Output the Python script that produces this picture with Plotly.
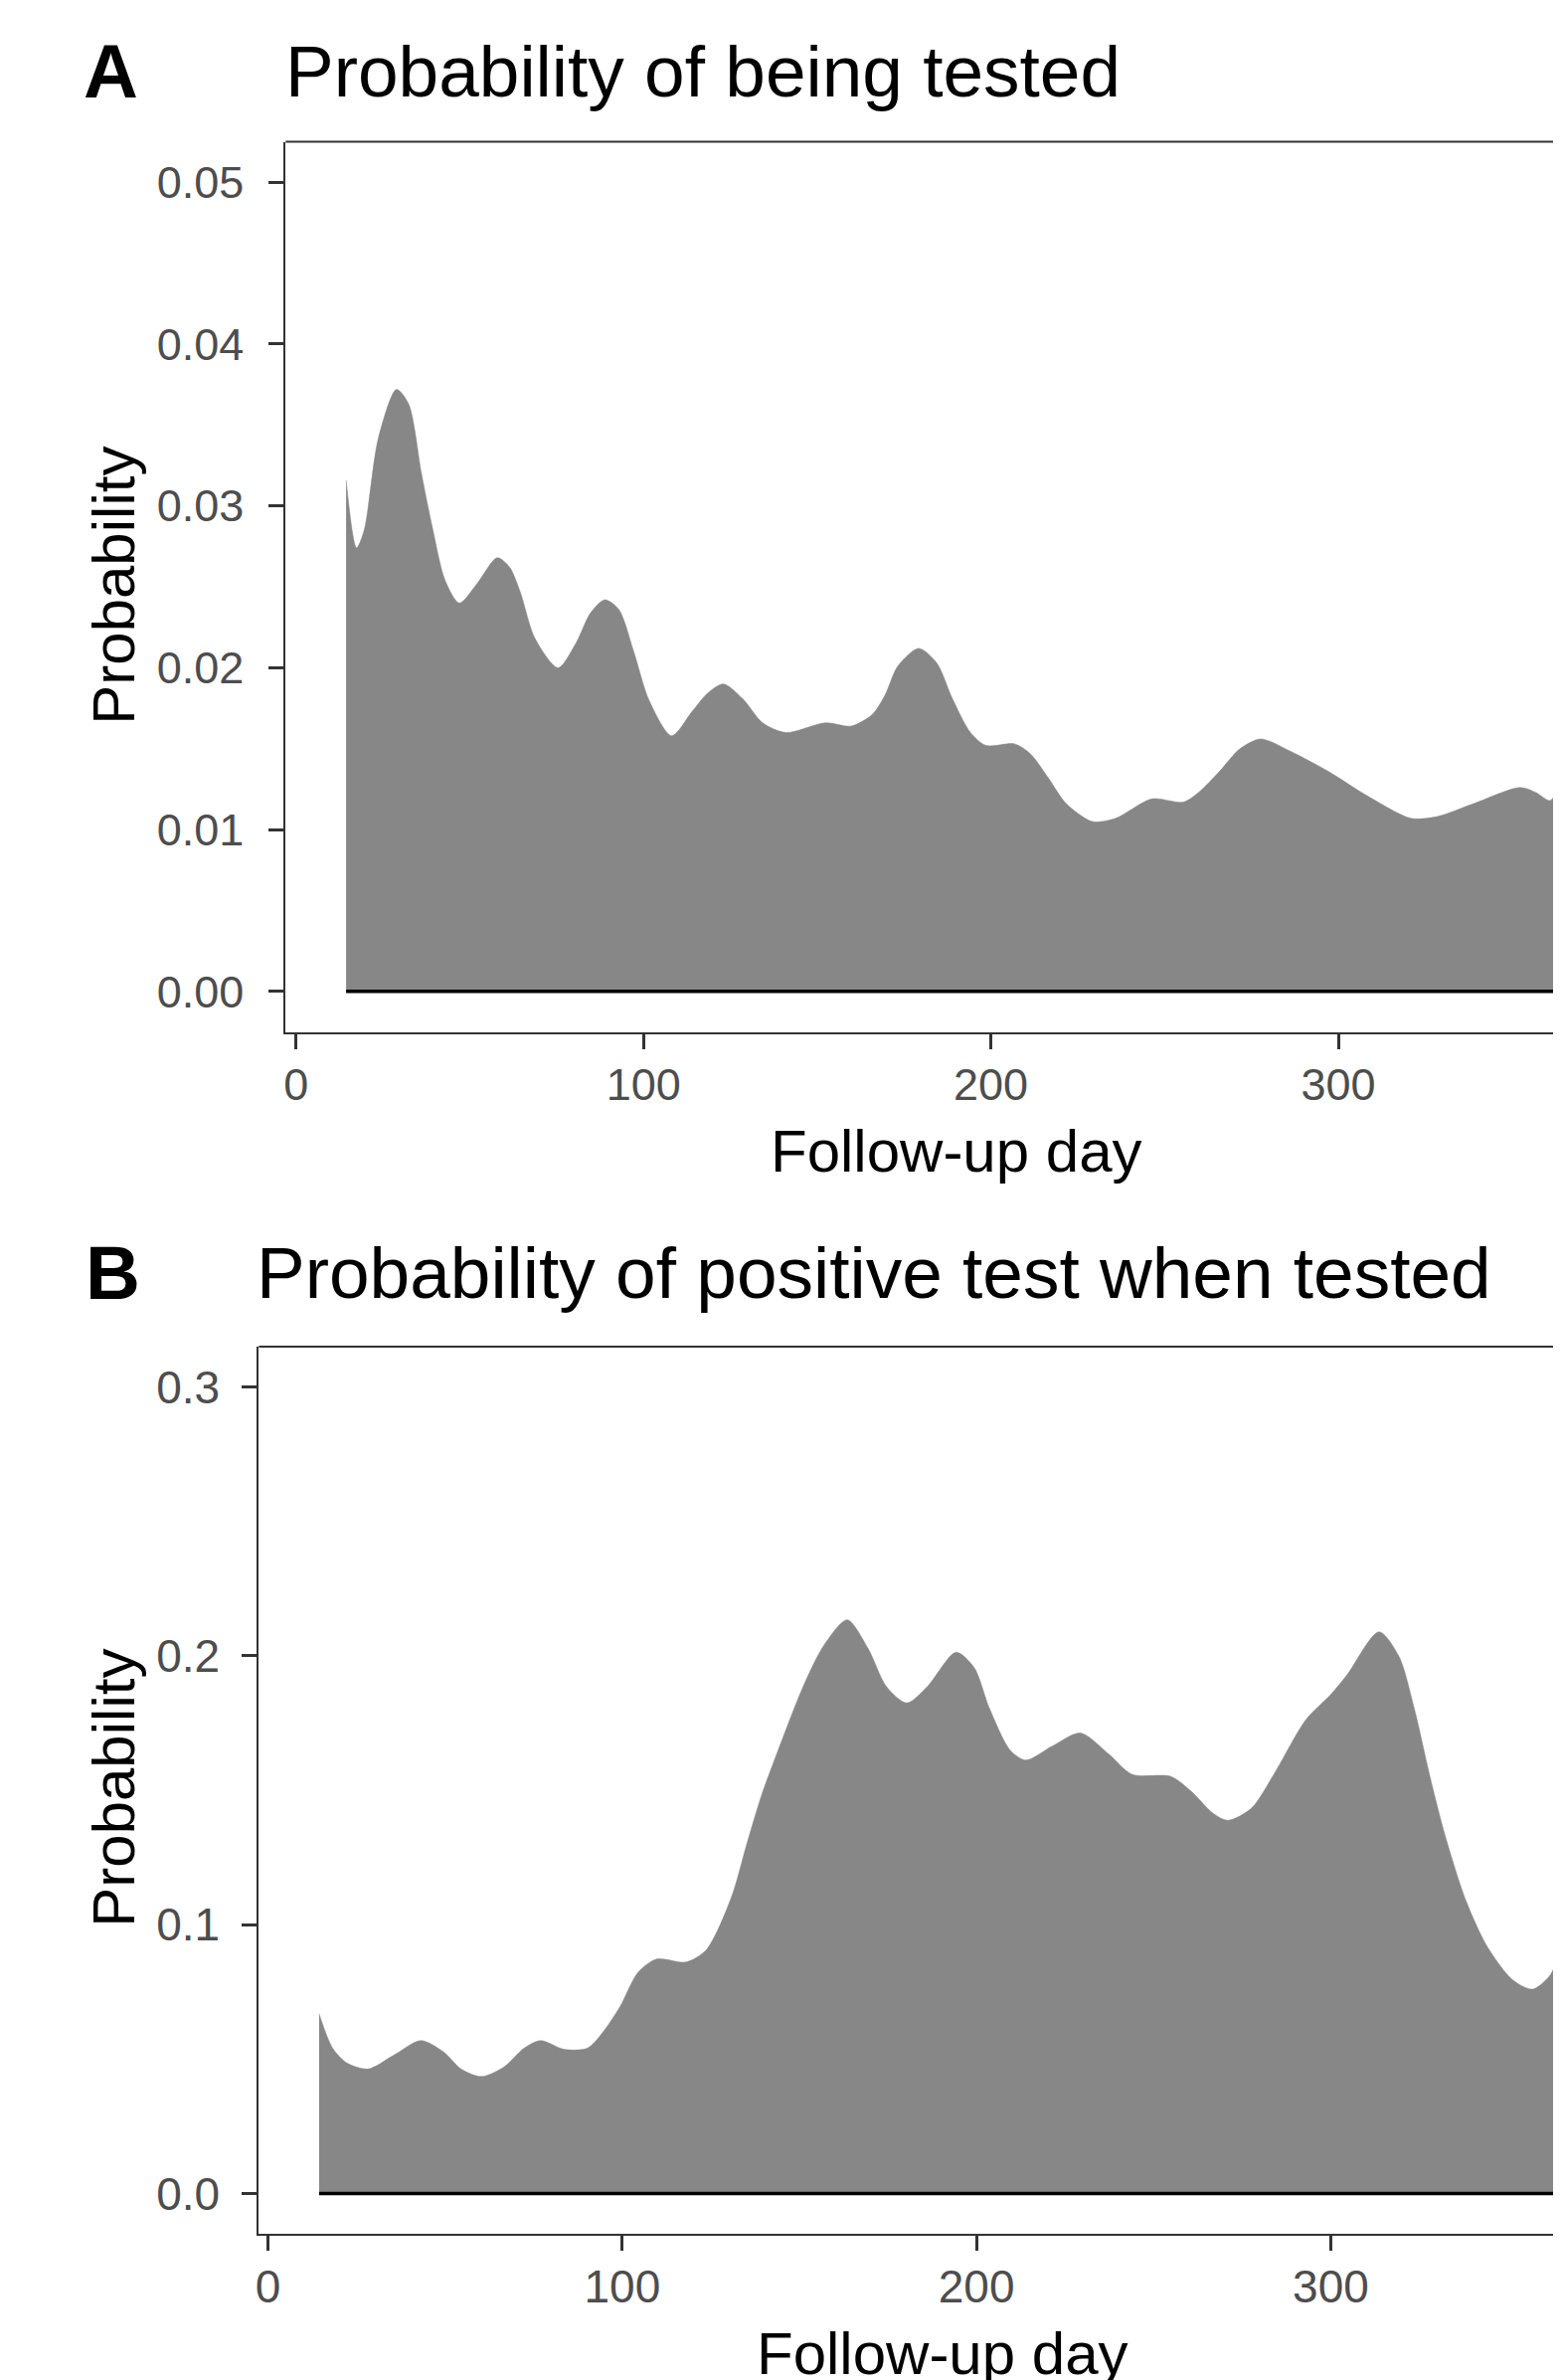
import plotly.graph_objects as go

# ---------------- data ----------------
days_a = [14.4, 17.4, 19.6, 23.7, 28.9, 32.4, 36.1, 39.4, 42.9, 47.0, 52.1, 57.9, 61.5, 64.5,
          68.8, 75.4, 80.5, 84.8, 88.9, 92.9, 97.2, 101.6, 108.1, 114.0, 118.3, 123.0, 128.5,
          134.3, 141.0, 152.4, 159.8, 165.8, 169.5, 173.2, 179.2, 184.4, 188.9, 194.1, 198.6,
          206.8, 211.3, 216.5, 221.7, 229.2, 235.9, 246.3, 255.3, 259.8, 265.8, 271.7, 277.7,
          286.6, 297.1, 309.0, 320.9, 328.4, 338.9, 352.3, 356.8, 361.0, 364.0, 367.0]
prob_a = [0.0316, 0.0274, 0.0285, 0.0342, 0.0372, 0.0363, 0.0320, 0.0285, 0.0254, 0.0240, 0.0252,
          0.0268, 0.0262, 0.0247, 0.0218, 0.0200, 0.0215, 0.0234, 0.0242, 0.0236, 0.0210, 0.0180,
          0.0158, 0.0173, 0.0184, 0.0190, 0.0181, 0.0166, 0.0160, 0.0166, 0.0164, 0.0171, 0.0183,
          0.0201, 0.0212, 0.0203, 0.0181, 0.0160, 0.0152, 0.0153, 0.0147, 0.0132, 0.0116, 0.0105,
          0.0107, 0.0119, 0.0117, 0.0123, 0.0136, 0.0150, 0.0156, 0.0148, 0.0136, 0.0120, 0.0107,
          0.0108, 0.0116, 0.0126, 0.0123, 0.0118, 0.0129, 0.0138]

days_b = [14.4, 18.2, 22.3, 28.2, 35.3, 43.1, 49.5, 54.5, 60.2, 66.6, 72.3, 76.9, 83.7, 90.2,
          94.4, 99.4, 104.4, 109.7, 118.0, 123.7, 130.8, 135.1, 139.3, 143.6, 151.1, 157.0,
          163.5, 169.4, 174.5, 180.3, 186.2, 194.2, 199.3, 203.7, 209.5, 213.9, 221.2, 229.3,
          237.3, 243.9, 254.9, 260.7, 266.6, 271.0, 277.6, 284.2, 292.9, 300.2, 304.6, 313.6,
          319.2, 323.6, 328.0, 332.4, 338.2, 344.1, 351.4, 357.0, 361.7, 364.3, 367.0]
prob_b = [0.0668, 0.0541, 0.0485, 0.0463, 0.0513, 0.0569, 0.0527, 0.0463, 0.0435, 0.0471, 0.0541,
          0.0569, 0.0536, 0.0541, 0.0598, 0.0696, 0.0822, 0.0872, 0.0861, 0.0906, 0.1102, 0.1298,
          0.1481, 0.1635, 0.1887, 0.2041, 0.2134, 0.2027, 0.1887, 0.1825, 0.1887, 0.2013, 0.1957,
          0.1803, 0.1649, 0.1612, 0.1663, 0.1713, 0.1635, 0.1559, 0.1551, 0.1495, 0.1416, 0.1388,
          0.1433, 0.1565, 0.1761, 0.1859, 0.1929, 0.2089, 0.1999, 0.1803, 0.1551, 0.1326, 0.1088,
          0.0920, 0.0794, 0.0760, 0.0808, 0.0878, 0.0960]

x_ticks = [0, 100, 200, 300]
y_ticks_a = [0.00, 0.01, 0.02, 0.03, 0.04, 0.05]
y_ticks_b = [0.0, 0.1, 0.2, 0.3]

title_a = "Probability of being tested"
title_b = "Probability of positive test when tested"
x_title = "Follow-up day"
y_title = "Probability"

# ---------------- layout helpers ----------------
PAGE_W, PAGE_H = 1570, 2393
OFF = 8  # default body margin of the html page
W, H = PAGE_W - OFF, PAGE_H - OFF


def px(x):
    return (x - OFF) / W


def py(y):
    return 1 - (y - OFF) / H


FONT = "Liberation Sans, Arial, sans-serif"
FILL = "#878787"
AXC = "#333333"
TICKC = "#4d4d4d"

fig = go.Figure()

for days, prob, xa, ya in [(days_a, prob_a, "x", "y"), (days_b, prob_b, "x2", "y2")]:
    fig.add_trace(go.Scatter(x=days, y=prob, mode="lines", fill="tozeroy",
                             line=dict(color=FILL, width=0.5, shape="spline", smoothing=0.8),
                             fillcolor=FILL, xaxis=xa, yaxis=ya, showlegend=False,
                             hoverinfo="skip"))
    fig.add_trace(go.Scatter(x=[days[0], days[-1]], y=[0, 0], mode="lines",
                             line=dict(color="black", width=3.5), xaxis=xa, yaxis=ya,
                             showlegend=False, hoverinfo="skip"))

# panel geometry (page pixels)
A_left, A_top, A_bot = 284, 142.6, 1037.5
B_left, B_top, B_bot = 257, 1354, 2246

common_axis = dict(showgrid=False, zeroline=False, showline=True, linecolor=AXC, linewidth=2,
                   ticks="outside", ticklen=15, tickwidth=3, tickcolor=AXC)

fig.update_layout(
    width=W, height=H, margin=dict(l=0, r=0, t=0, b=0),
    paper_bgcolor="white", plot_bgcolor="white",
    font=dict(family=FONT),
    xaxis=dict(domain=[px(A_left), 1], range=[-3.0, 364.1], anchor="y",
               tickvals=x_ticks, tickfont=dict(size=45, color=TICKC), ticklabelstandoff=-3,
               **common_axis),
    yaxis=dict(domain=[py(A_bot), py(A_top)], range=[-0.0025, 0.0525], anchor="x",
               tickvals=y_ticks_a, tickformat=".2f", tickfont=dict(size=45, color=TICKC),
               ticklabelstandoff=16, **common_axis),
    xaxis2=dict(domain=[px(B_left), 1], range=[-2.6, 365.0], anchor="y2",
                tickvals=x_ticks, tickfont=dict(size=46, color=TICKC), ticklabelstandoff=-3,
                **common_axis),
    yaxis2=dict(domain=[py(B_bot), py(B_top)], range=[-0.015, 0.315], anchor="x2",
                tickvals=y_ticks_b, tickformat=".1f", tickfont=dict(size=46, color=TICKC),
                ticklabelstandoff=13, **common_axis),
)

# top borders
for left, top in [(A_left, A_top), (B_left, B_top)]:
    fig.add_shape(type="line", xref="paper", yref="paper", x0=px(left), x1=1,
                  y0=py(top), y1=py(top), line=dict(color=AXC, width=2))


def ann(text, x, y, size, xanchor="center", bold=False, angle=0, color="black"):
    fig.add_annotation(text=("<b>%s</b>" % text) if bold else text, xref="paper", yref="paper",
                       x=px(x), y=py(y), xanchor=xanchor, yanchor="middle", showarrow=False,
                       textangle=angle, font=dict(size=size, color=color, family=FONT))


ann("A", 78, 72, 76, xanchor="left", bold=True)
ann(title_a, 282, 72, 73, xanchor="left")
ann("B", 80, 1279, 76, xanchor="left", bold=True)
ann(title_b, 253, 1279, 73, xanchor="left")

ann(y_title, 110, 589, 60, angle=-90)
ann(x_title, 960, 1157, 60)
ann(y_title, 110, 1798, 60, angle=-90)
ann(x_title, 946, 2366, 60)

fig.write_html("out.html")
